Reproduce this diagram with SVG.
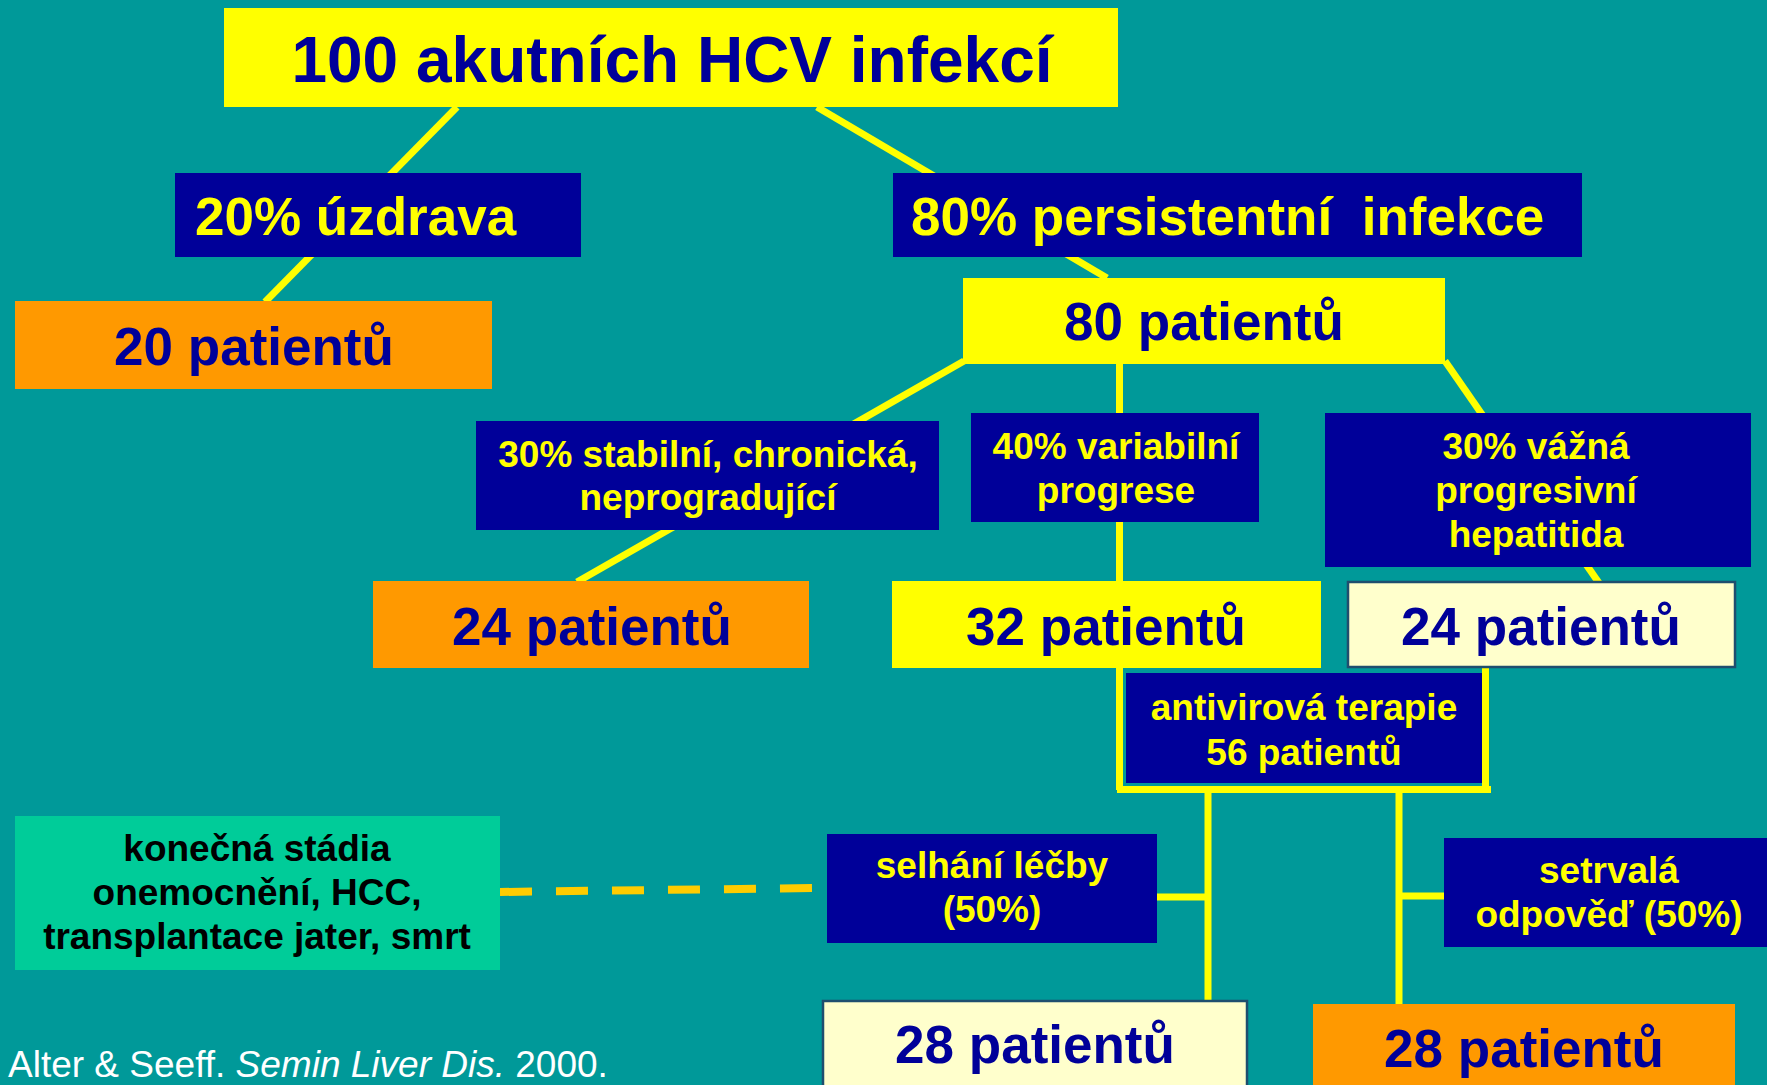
<svg xmlns="http://www.w3.org/2000/svg" width="1767" height="1085" viewBox="0 0 1767 1085">
<style>
text{font-family:"Liberation Sans",Arial,sans-serif;font-weight:bold;text-anchor:middle}
.big{font-size:53px;fill:#000099}
.mid{font-size:37px;fill:#FFFF00}
.lbl{font-size:53px;fill:#FFFF00}
.navy{fill:#000099}
.yel{fill:#FFFF00}
.org{fill:#FF9900}
.lt{fill:#FFFFCC;stroke:#1F4E6E;stroke-width:2.5}
.ln{stroke:#FFFF00;stroke-width:7;fill:none}
</style>
<rect x="0" y="0" width="1767" height="1085" fill="#009999"/>
<g id="connectors">
<line class="ln" x1="457" y1="107" x2="265" y2="302"/>
<line class="ln" x1="817" y1="107" x2="1107" y2="278"/>
<line class="ln" x1="964" y1="361" x2="577" y2="582"/>
<line class="ln" x1="1119.5" y1="362" x2="1119.5" y2="790"/>
<line class="ln" x1="1445" y1="361" x2="1599" y2="583"/>
<line class="ln" x1="1485.5" y1="667" x2="1485.5" y2="790"/>
<line class="ln" x1="1117" y1="789.5" x2="1491" y2="789.5" stroke-width="8"/>
<line class="ln" x1="1208" y1="790" x2="1208" y2="1001"/>
<line class="ln" x1="1399" y1="790" x2="1399" y2="1004"/>
<line class="ln" x1="1156" y1="897" x2="1208" y2="897"/>
<line class="ln" x1="1399" y1="896" x2="1445" y2="896"/>
<line x1="500" y1="892" x2="812" y2="888" stroke="#FFCC00" stroke-width="8" stroke-dasharray="32 24"/>
</g>
<g id="n-top"><rect class="yel" x="224" y="8" width="894" height="99"/><text x="672" y="82" font-size="64" fill="#000099">100 akutních HCV infekcí</text></g>
<g id="n-uzdrava"><rect class="navy" x="175" y="173" width="406" height="84"/><text class="lbl" x="195" y="235" style="text-anchor:start">20% úzdrava</text></g>
<g id="n-persist"><rect class="navy" x="893" y="173" width="689" height="84"/><text class="lbl" x="911" y="235" style="text-anchor:start" xml:space="preserve">80% persistentní  infekce</text></g>
<g id="n-20"><rect class="org" x="15" y="301" width="477" height="88"/><text class="big" x="254" y="365">20 patientů</text></g>
<g id="n-80"><rect class="yel" x="963" y="278" width="482" height="86"/><text class="big" x="1204" y="340">80 patientů</text></g>
<g id="n-stabil"><rect class="navy" x="476" y="421" width="463" height="109"/><text class="mid" x="708" y="467">30% stabilní, chronická,</text><text class="mid" x="708" y="510">neprogradující</text></g>
<g id="n-variab"><rect class="navy" x="971" y="413" width="288" height="109"/><text class="mid" x="1116" y="459">40% variabilní</text><text class="mid" x="1116" y="503">progrese</text></g>
<g id="n-vazna"><rect class="navy" x="1325" y="413" width="426" height="154"/><text class="mid" x="1536" y="459">30% vážná</text><text class="mid" x="1536" y="503">progresivní</text><text class="mid" x="1536" y="547">hepatitida</text></g>
<g id="n-24a"><rect class="org" x="373" y="581" width="436" height="87"/><text class="big" x="592" y="645">24 patientů</text></g>
<g id="n-32"><rect class="yel" x="892" y="581" width="429" height="87"/><text class="big" x="1106" y="645">32 patientů</text></g>
<g id="n-24b"><rect class="lt" x="1348" y="582" width="387" height="85"/><text class="big" x="1541" y="645">24 patientů</text></g>
<g id="n-antivir"><rect class="navy" x="1126" y="673" width="356" height="110"/><text class="mid" x="1304" y="720">antivirová terapie</text><text class="mid" x="1304" y="765">56 patientů</text></g>
<g id="n-konec"><rect fill="#00CC99" x="15" y="816" width="485" height="154"/><text x="257" y="861" font-size="37" fill="#000000">konečná stádia</text><text x="257" y="905" font-size="37" fill="#000000">onemocnění, HCC,</text><text x="257" y="949" font-size="37" fill="#000000">transplantace jater, smrt</text></g>
<g id="n-selhani"><rect class="navy" x="827" y="834" width="330" height="109"/><text class="mid" x="992" y="878">selhání léčby</text><text class="mid" x="992" y="922">(50%)</text></g>
<g id="n-setrvala"><rect class="navy" x="1444" y="838" width="323" height="109"/><text class="mid" x="1609" y="883">setrvalá</text><text class="mid" x="1609" y="927">odpověď (50%)</text></g>
<g id="n-28a"><rect class="lt" x="823" y="1001" width="424" height="90"/><text class="big" x="1035" y="1063">28 patientů</text></g>
<g id="n-28b"><rect class="org" x="1313" y="1004" width="422" height="90"/><text class="big" x="1524" y="1067">28 patientů</text></g>
<text x="8" y="1077" font-size="37" fill="#FFFFFF" style="font-weight:normal;text-anchor:start">Alter &amp; Seeff. <tspan font-style="italic">Semin Liver Dis.</tspan> 2000.</text>
</svg>
